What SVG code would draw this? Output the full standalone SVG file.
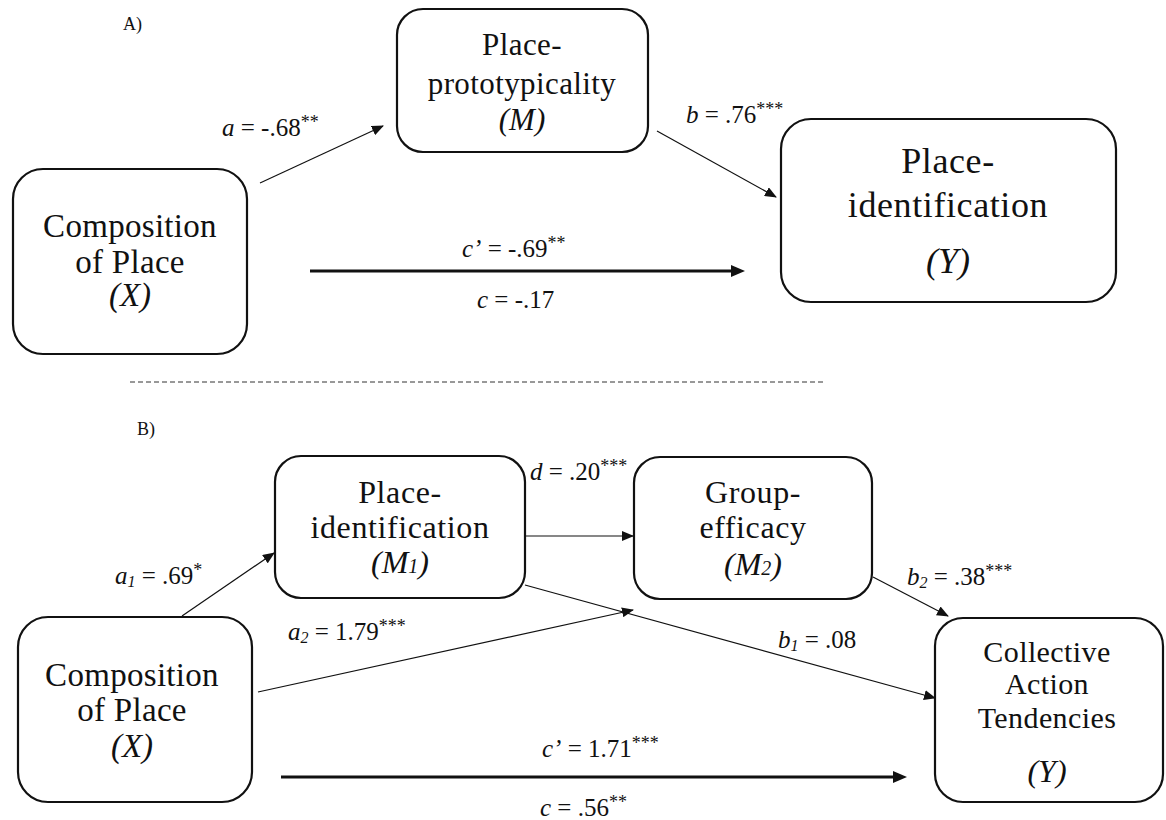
<svg xmlns="http://www.w3.org/2000/svg" width="1166" height="820" viewBox="0 0 1166 820">
<style>
.box{fill:#fff;stroke:#111;stroke-width:2.2}
.t{font-family:"Liberation Serif","Times New Roman",serif;fill:#111;text-anchor:middle}
.lbl{font-family:"Liberation Serif","Times New Roman",serif;fill:#111;font-size:25px}
.it{font-style:italic}
.sup{font-size:18px}
.sub{font-size:16px;font-style:italic}
.ln{stroke:#111;stroke-width:1.2;fill:none}
.thick{stroke:#111;stroke-width:3;fill:none}
</style>
<defs>
<marker id="ah" viewBox="0 0 12 10" refX="11" refY="5" markerWidth="12" markerHeight="10" markerUnits="userSpaceOnUse" orient="auto"><path d="M0,0 L12,5 L0,10 z" fill="#111"/></marker>
<marker id="ahb" viewBox="0 0 14 12" refX="1" refY="6" markerWidth="14" markerHeight="12" markerUnits="userSpaceOnUse" orient="auto"><path d="M0,0 L14,6 L0,12 z" fill="#111"/></marker>
</defs>
<rect width="1166" height="820" fill="#fff"/>

<text class="lbl" x="123" y="30" style="font-size:18px">A)</text>
<text class="lbl" x="137" y="435" style="font-size:18px">B)</text>
<line x1="130" y1="382" x2="825" y2="382" stroke="#333" stroke-width="1" stroke-dasharray="5,3"/>

<!-- Panel A nodes -->
<g id="A_X">
<rect class="box" x="13" y="169" width="234" height="185" rx="30"/>
<text class="t" x="130" y="237" font-size="33" letter-spacing="0.3">Composition</text>
<text class="t" x="130" y="273" font-size="33" letter-spacing="0.3">of Place</text>
<text class="t it" x="130" y="306" font-size="33">(X)</text>
</g>
<g id="A_M">
<rect class="box" x="397" y="9" width="251" height="143" rx="26"/>
<text class="t" x="522" y="55" font-size="31" letter-spacing="0.4">Place-</text>
<text class="t" x="522" y="94" font-size="31" letter-spacing="0.4">prototypicality</text>
<text class="t it" x="522" y="130" font-size="31">(M)</text>
</g>
<g id="A_Y">
<rect class="box" x="781" y="119" width="335" height="183" rx="30"/>
<text class="t" x="948" y="173" font-size="36" letter-spacing="0.6">Place-</text>
<text class="t" x="948" y="217" font-size="36" letter-spacing="0.6">identification</text>
<text class="t it" x="948" y="273" font-size="36">(Y)</text>
</g>

<!-- Panel B nodes -->
<g id="B_X">
<rect class="box" x="18" y="617" width="234" height="185" rx="30"/>
<text class="t" x="132" y="686" font-size="33" letter-spacing="0.3">Composition</text>
<text class="t" x="132" y="721" font-size="33" letter-spacing="0.3">of Place</text>
<text class="t it" x="132" y="757" font-size="33">(X)</text>
</g>
<g id="B_M1">
<rect class="box" x="275" y="456" width="250" height="142" rx="26"/>
<text class="t" x="400" y="503" font-size="32" letter-spacing="0.6">Place-</text>
<text class="t" x="400" y="538" font-size="32" letter-spacing="0.6">identification</text>
<text class="t it" x="400" y="573" font-size="32">(M<tspan font-size="20">1</tspan>)</text>
</g>
<g id="B_M2">
<rect class="box" x="634" y="457" width="238" height="142" rx="26"/>
<text class="t" x="753" y="503" font-size="32" letter-spacing="0.6">Group-</text>
<text class="t" x="753" y="538" font-size="32" letter-spacing="0.6">efficacy</text>
<text class="t it" x="753" y="575" font-size="32">(M<tspan font-size="20">2</tspan>)</text>
</g>
<g id="B_Y">
<rect class="box" x="935" y="618" width="228" height="184" rx="28"/>
<text class="t" x="1047" y="662" font-size="30" letter-spacing="0.4">Collective</text>
<text class="t" x="1047" y="694" font-size="30" letter-spacing="0.4">Action</text>
<text class="t" x="1047" y="728" font-size="30" letter-spacing="0.4">Tendencies</text>
<text class="t it" x="1047" y="782" font-size="32">(Y)</text>
</g>

<!-- connectors -->
<g id="connectors">
<line class="ln" x1="260" y1="183" x2="383" y2="126" marker-end="url(#ah)"/>
<line class="ln" x1="657" y1="131" x2="776" y2="197" marker-end="url(#ah)"/>
<line class="thick" x1="310" y1="271" x2="732" y2="271" marker-end="url(#ahb)"/>
<line class="ln" x1="182" y1="616" x2="274" y2="553" marker-end="url(#ah)"/>
<line class="ln" x1="258" y1="692" x2="633" y2="610" marker-end="url(#ah)"/>
<line class="ln" x1="525" y1="536" x2="633" y2="536" marker-end="url(#ah)"/>
<line class="ln" x1="525" y1="585" x2="935" y2="698" marker-end="url(#ah)"/>
<line class="ln" x1="873" y1="577" x2="948" y2="616" marker-end="url(#ah)"/>
<line class="thick" x1="281" y1="777" x2="894" y2="777" marker-end="url(#ahb)"/>
</g>

<!-- labels -->
<g id="labels">
<text class="lbl" x="222" y="136"><tspan class="it">a</tspan> = -.68<tspan class="sup" dy="-8">**</tspan></text>
<text class="lbl" x="686" y="123"><tspan class="it">b</tspan> = .76<tspan class="sup" dy="-8">***</tspan></text>
<text class="lbl" x="462" y="257"><tspan class="it">c’</tspan> = -.69<tspan class="sup" dy="-8">**</tspan></text>
<text class="lbl" x="477" y="308"><tspan class="it">c</tspan> = -.17</text>
<text class="lbl" x="115" y="584"><tspan class="it">a</tspan><tspan class="sub" dy="3">1</tspan><tspan dy="-3"> = .69</tspan><tspan class="sup" dy="-8">*</tspan></text>
<text class="lbl" x="288" y="640"><tspan class="it">a</tspan><tspan class="sub" dy="3">2</tspan><tspan dy="-3"> = 1.79</tspan><tspan class="sup" dy="-8">***</tspan></text>
<text class="lbl" x="530" y="480"><tspan class="it">d</tspan> = .20<tspan class="sup" dy="-8">***</tspan></text>
<text class="lbl" x="907" y="585"><tspan class="it">b</tspan><tspan class="sub" dy="3">2</tspan><tspan dy="-3"> = .38</tspan><tspan class="sup" dy="-8">***</tspan></text>
<text class="lbl" x="778" y="648"><tspan class="it">b</tspan><tspan class="sub" dy="3">1</tspan><tspan dy="-3"> = .08</tspan></text>
<text class="lbl" x="542" y="757"><tspan class="it">c’</tspan> = 1.71<tspan class="sup" dy="-8">***</tspan></text>
<text class="lbl" x="540" y="816"><tspan class="it">c</tspan> = .56<tspan class="sup" dy="-8">**</tspan></text>
</g>
</svg>
